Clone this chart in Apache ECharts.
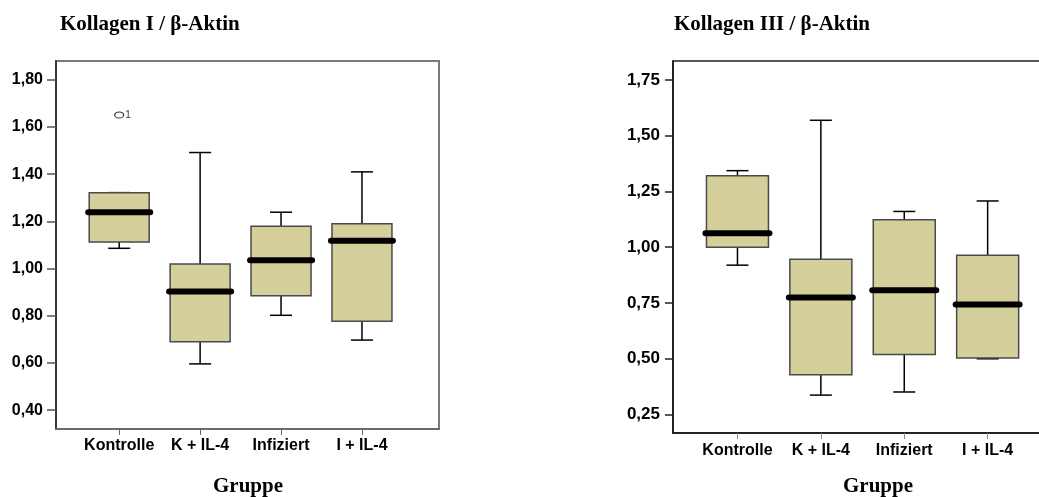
<!DOCTYPE html>
<html>
<head>
<meta charset="utf-8">
<script src="https://cdn.jsdelivr.net/npm/echarts@6/dist/echarts.min.js"></script>
<style>html,body{margin:0;padding:0;background:#fff}#c{width:1039px;height:497px}</style>
</head>
<body>
<div id="c"></div>
<script>
const categories = ['Kontrolle', 'K + IL-4', 'Infiziert', 'I + IL-4'];
// [min, Q1, median, Q3, max]
const kollagen1 = [
  [1.086, 1.113, 1.239, 1.322, 1.322],
  [0.596, 0.690, 0.903, 1.019, 1.492],
  [0.802, 0.885, 1.035, 1.179, 1.239],
  [0.697, 0.777, 1.118, 1.190, 1.410]
];
const kollagen1Outliers = [[0, 1.651, '1']];
const kollagen3 = [
  [0.919, 0.999, 1.062, 1.320, 1.343],
  [0.336, 0.427, 0.774, 0.945, 1.569],
  [0.350, 0.518, 0.807, 1.123, 1.160],
  [0.499, 0.503, 0.743, 0.963, 1.207]
];
const ticks1 = [0.4, 0.6, 0.8, 1.0, 1.2, 1.4, 1.6, 1.8];
const ticks3 = [0.25, 0.5, 0.75, 1.0, 1.25, 1.5, 1.75];
const title1 = 'Kollagen I / β-Aktin';
const title3 = 'Kollagen III / β-Aktin';
const xName = 'Gruppe';

const FILL = '#d4cf9b';
const sansB = {fontFamily: 'Liberation Sans, Arial, sans-serif', fontWeight: 'bold', color: '#000'};

function boxRender(boxW, capW) {
  return function (params, api) {
    const x = api.value(0);
    const p = [api.value(1), api.value(2), api.value(3), api.value(4), api.value(5)];
    const c = p.map(v => api.coord([x, v]));
    const cx = c[0][0];
    const yMin = c[0][1], yQ1 = c[1][1], yMed = c[2][1], yQ3 = c[3][1], yMax = c[4][1];
    const line = {stroke: '#000', lineWidth: 1.5};
    return {
      type: 'group',
      children: [
        {type: 'line', shape: {x1: cx, y1: yMax, x2: cx, y2: yQ3}, style: line},
        {type: 'line', shape: {x1: cx, y1: yQ1, x2: cx, y2: yMin}, style: line},
        {type: 'line', shape: {x1: cx - capW / 2, y1: yMax, x2: cx + capW / 2, y2: yMax}, style: line},
        {type: 'line', shape: {x1: cx - capW / 2, y1: yMin, x2: cx + capW / 2, y2: yMin}, style: line},
        {type: 'rect', shape: {x: cx - boxW / 2, y: yQ3, width: boxW, height: yQ1 - yQ3},
          style: {fill: FILL, stroke: '#4a4a4a', lineWidth: 1.5}},
        {type: 'line', shape: {x1: cx - boxW / 2 - 1, y1: yMed, x2: cx + boxW / 2 + 1, y2: yMed},
          style: {stroke: '#000', lineWidth: 6, lineCap: 'round'}}
      ]
    };
  };
}

const fmt = v => v.toFixed(2).replace('.', ',');

const chart = echarts.init(document.getElementById('c'));
chart.setOption({
  animation: false,
  backgroundColor: '#fff',
  grid: [
    {left: 56, top: 61, width: 383, height: 368, outerBoundsMode: 'none', show: true, borderColor: '#7a7a7a', borderWidth: 2, backgroundColor: 'transparent'},
    {left: 673, top: 61, width: 380, height: 372, outerBoundsMode: 'none', show: true, borderColor: '#222', borderWidth: 1.5, backgroundColor: 'transparent'}
  ],
  xAxis: [
    {type: 'value', gridIndex: 0, min: -0.781, max: 3.952,
      axisLine: {show: true, onZero: false, lineStyle: {color: '#6a6a6a', width: 2}},
      axisTick: {show: true, customValues: [0, 1, 2, 3], length: 6, lineStyle: {color: '#666'}},
      axisLabel: {customValues: [0, 1, 2, 3], formatter: v => categories[Math.round(v)] || '', margin: 9, fontSize: 16, ...sansB},
      splitLine: {show: false}},
    {type: 'value', gridIndex: 1, min: -0.773, max: 3 + (1053 - 987.7) / 83.33,
      axisLine: {show: true, onZero: false, lineStyle: {color: '#111', width: 1.5}},
      axisTick: {show: true, customValues: [0, 1, 2, 3], length: 6, lineStyle: {color: '#888'}},
      axisLabel: {customValues: [0, 1, 2, 3], formatter: v => categories[Math.round(v)] || '', margin: 10, fontSize: 16, ...sansB},
      splitLine: {show: false}}
  ],
  yAxis: [
    {type: 'value', gridIndex: 0, min: 0.32, max: 1.88,
      axisLine: {show: true, onZero: false, lineStyle: {color: '#222', width: 1.5}},
      axisTick: {show: true, customValues: ticks1, length: 9, lineStyle: {color: '#555', width: 1.5}},
      axisLabel: {customValues: ticks1, formatter: fmt, margin: 13, fontSize: 16, ...sansB},
      splitLine: {show: false}},
    {type: 'value', gridIndex: 1, min: 0.166, max: 1.835,
      axisLine: {show: true, onZero: false, lineStyle: {color: '#111', width: 1.5}},
      axisTick: {show: true, customValues: ticks3, length: 8, lineStyle: {color: '#222', width: 1.5}},
      axisLabel: {customValues: ticks3, formatter: fmt, margin: 13, fontSize: 17, ...sansB},
      splitLine: {show: false}}
  ],
  series: [
    {type: 'custom', xAxisIndex: 0, yAxisIndex: 0, renderItem: boxRender(60, 22),
      data: kollagen1.map((d, i) => [i, ...d])},
    {type: 'scatter', xAxisIndex: 0, yAxisIndex: 0, symbol: 'circle', symbolSize: [9, 6],
      itemStyle: {color: '#fff', borderColor: '#000', borderWidth: 1},
      label: {show: true, position: 'right', distance: 1, formatter: p => p.data[2], fontSize: 10, color: '#000', fontFamily: 'Liberation Sans, Arial, sans-serif'},
      data: kollagen1Outliers},
    {type: 'custom', xAxisIndex: 1, yAxisIndex: 1, renderItem: boxRender(62, 22),
      data: kollagen3.map((d, i) => [i, ...d])}
  ],
  graphic: [
    {type: 'text', left: 60, top: 14, style: {text: title1, font: 'bold 21px "Liberation Serif", "Times New Roman", serif', fill: '#000'}},
    {type: 'text', left: 674, top: 14, style: {text: title3, font: 'bold 21px "Liberation Serif", "Times New Roman", serif', fill: '#000'}},
    {type: 'text', x: 248, y: 487, style: {text: xName, font: 'bold 21px "Liberation Serif", "Times New Roman", serif', fill: '#000', textAlign: 'center', textVerticalAlign: 'middle'}},
    {type: 'text', x: 878, y: 487, style: {text: xName, font: 'bold 21px "Liberation Serif", "Times New Roman", serif', fill: '#000', textAlign: 'center', textVerticalAlign: 'middle'}}
  ]
});
</script>
</body>
</html>
